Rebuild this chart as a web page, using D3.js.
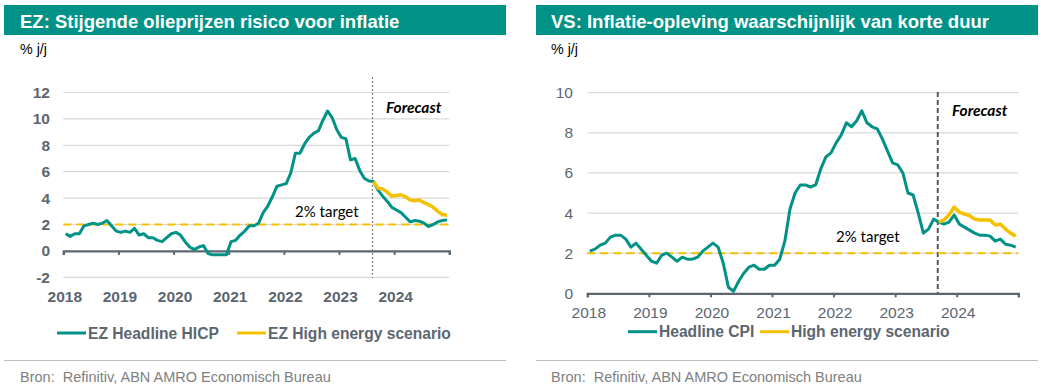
<!DOCTYPE html>
<html><head><meta charset="utf-8">
<script src="https://cdn.jsdelivr.net/npm/d3@7"></script>
<style>body{margin:0;background:#fff}svg{display:block}</style>
</head><body><svg id="c" width="1041" height="390"></svg>
<script>
// ---------- DATA ----------
const years = ["2018","2019","2020","2021","2022","2023","2024"];
// monthly, index 0 = Jan 2018
const ezHeadline = [
  1.3,1.1,1.3,1.3,1.9,2.0,2.1,2.0,2.1,2.3,1.9,1.5,
  1.4,1.5,1.4,1.7,1.2,1.3,1.0,1.0,0.8,0.7,1.0,1.3,
  1.4,1.2,0.7,0.3,0.1,0.3,0.4,-0.2,-0.3,-0.3,-0.3,-0.3,
  0.7,0.8,1.2,1.5,1.9,1.9,2.1,2.9,3.4,4.1,4.9,5.0,
  5.1,5.9,7.4,7.4,8.1,8.6,8.9,9.1,9.9,10.6,10.1,9.2,
  8.6,8.5,6.9,7.0,6.1,5.5,5.3,
  5.25,4.6,4.15,3.75,3.3,3.1,2.9,2.55,2.2,2.3,2.25,2.1,1.85,2.0,2.2,2.3,2.35
];
const ezHighStart = 67;
const ezHighEnergy = [5.25,4.75,4.7,4.45,4.15,4.2,4.25,4.1,3.85,3.8,3.85,3.65,3.5,3.3,3.0,2.75,2.7];
const usHeadline = [
  2.1,2.2,2.4,2.5,2.8,2.9,2.9,2.7,2.3,2.5,2.2,1.9,
  1.6,1.5,1.9,2.0,1.8,1.6,1.8,1.7,1.7,1.8,2.1,2.3,
  2.5,2.3,1.5,0.3,0.1,0.6,1.0,1.3,1.4,1.2,1.2,1.4,
  1.4,1.7,2.6,4.2,5.0,5.4,5.4,5.3,5.4,6.2,6.8,7.0,
  7.5,7.9,8.5,8.3,8.6,9.1,8.5,8.3,8.2,7.7,7.1,6.5,
  6.4,6.0,5.0,4.9,4.0,3.0,3.2,3.7,
  3.55,3.45,3.55,3.9,3.45,3.3,3.15,3.0,2.9,2.9,2.85,2.6,2.7,2.45,2.4,2.3
];
const usHighStart = 68;
const usHighEnergy = [3.55,3.65,3.9,4.3,4.05,3.95,3.87,3.7,3.65,3.65,3.65,3.4,3.45,3.2,3.0,2.85];
const targetValue = 2;
const ezYTicks = [-2,0,2,4,6,8,10,12];
const usYTicks = [0,2,4,6,8,10];

// ---------- STYLE ----------
const TEAL = "#009286", GOLD = "#F5C000", GREY = "#5b6670", GRID = "#d9d9d9";
const svg = d3.select("#c");
svg.append("rect").attr("width",1041).attr("height",390).attr("fill","#fff");

function panel(cfg){
  const g = svg.append("g");
  // title bar
  g.append("rect").attr("x",cfg.px).attr("y",5).attr("width",cfg.pw).attr("height",30).attr("fill",TEAL);
  g.append("text").attr("x",cfg.tx).attr("y",27.5).text(cfg.title)
    .attr("font-family","'Liberation Sans',Arial,sans-serif").attr("font-weight","bold")
    .attr("font-size",18.5).attr("fill","#fff");
  g.append("text").attr("x",cfg.tx).attr("y",54).text("% j/j")
    .attr("font-family","'Liberation Sans',Arial,sans-serif").attr("font-size",14.3).attr("fill","#000");

  const x = d3.scaleLinear().domain([0,84]).range(cfg.xr);
  const y = d3.scaleLinear().domain(cfg.yd).range(cfg.yr);
  const xm = i => x(i+0.5);

  // gridlines
  g.append("g").selectAll("line").data(cfg.yTicks.filter(t=>t!==0)).join("line")
    .attr("x1",cfg.xr[0]).attr("x2",cfg.xr[1]).attr("y1",d=>y(d)).attr("y2",d=>y(d))
    .attr("stroke",GRID).attr("stroke-width",1.2);
  // y labels
  g.append("g").selectAll("text").data(cfg.yTicks).join("text")
    .attr("x",cfg.ylx).attr("y",d=>y(d)+5.5).attr("text-anchor","end").text(d=>d)
    .attr("font-family","'Liberation Sans',Arial,sans-serif").attr("font-size",15.5)
    .attr("font-weight",cfg.bold?"bold":"normal").attr("fill",GREY);

  // x axis at 0
  const ax = d3.axisBottom(x).tickValues(d3.range(0,85,12)).tickSize(4).tickFormat("");
  const axg = g.append("g").attr("transform",`translate(0,${y(0)})`).call(ax);
  axg.select(".domain").attr("stroke",GREY).attr("stroke-width",2.2);
  axg.selectAll(".tick line").attr("stroke",GREY).attr("stroke-width",2);
  // year labels
  g.append("g").selectAll("text").data(years).join("text")
    .attr("x",(d,i)=>x(i*12)+1.5).attr("y",cfg.yearY).attr("text-anchor","middle").text(d=>d)
    .attr("font-family","'Liberation Sans',Arial,sans-serif").attr("font-size",15.5)
    .attr("font-weight",cfg.bold?"bold":"normal").attr("fill",GREY);

  // forecast divider
  g.append("line").attr("x1",xm(cfg.hiStart)-1).attr("x2",xm(cfg.hiStart)-1)
    .attr("y1",cfg.divY[0]).attr("y2",cfg.divY[1])
    .attr("stroke",cfg.divColor).attr("stroke-width",cfg.divW).attr("stroke-dasharray",cfg.divDash);
  g.append("text").attr("x",cfg.fcX).attr("y",cfg.fcY).text("Forecast")
    .attr("font-family","Lato,'Open Sans',sans-serif").attr("font-weight","bold").attr("font-style","italic")
    .attr("font-size",15.5).attr("fill","#000");

  // 2% target
  g.append("line").attr("x1",cfg.xr[0]).attr("x2",cfg.xr[1]).attr("y1",y(targetValue)).attr("y2",y(targetValue))
    .attr("stroke",GOLD).attr("stroke-width",2).attr("stroke-dasharray","8,5");
  g.append("text").attr("x",cfg.tgX).attr("y",cfg.tgY).text("2% target")
    .attr("font-family","Lato,'Open Sans',sans-serif").attr("font-size",15).attr("fill","#000");

  const line = d3.line().x(d=>xm(d.i)).y(d=>y(d.v));
  g.append("path").datum(cfg.head.map((v,i)=>({i,v}))).attr("d",line)
    .attr("fill","none").attr("stroke",TEAL).attr("stroke-width",3).attr("stroke-linejoin","round");
  g.append("path").datum(cfg.hi.map((v,k)=>({i:cfg.hiStart+k,v}))).attr("d",line)
    .attr("fill","none").attr("stroke",GOLD).attr("stroke-width",3.5).attr("stroke-linejoin","round");

  // legend
  const lf = "'Liberation Sans',Arial,sans-serif";
  cfg.legend.forEach(L=>{
    g.append("line").attr("x1",L.x).attr("x2",L.x+29).attr("y1",cfg.legY).attr("y2",cfg.legY)
      .attr("stroke",L.c).attr("stroke-width",3);
    g.append("text").attr("x",L.x+31).attr("y",cfg.legY+5.5).text(L.t)
      .attr("font-family",lf).attr("font-weight","bold").attr("font-size",15.6).attr("fill",GREY);
  });

  // footer
  g.append("line").attr("x1",cfg.px).attr("x2",cfg.px+cfg.pw).attr("y1",360.5).attr("y2",360.5)
    .attr("stroke","#bfbfbf").attr("stroke-width",1);
  g.append("text").attr("x",cfg.tx).attr("y",382).text("Bron:  Refinitiv, ABN AMRO Economisch Bureau")
    .style("white-space","pre")
    .attr("font-family",lf).attr("font-size",14.5).attr("fill","#808080");
}

panel({
  px:4, pw:502, tx:20, title:"EZ: Stijgende olieprijzen risico voor inflatie",
  xr:[63.3,449.3], yd:[-2,12], yr:[277.3,92.5], yTicks:ezYTicks, ylx:50, bold:true, yearY:302,
  head:ezHeadline, hi:ezHighEnergy, hiStart:ezHighStart,
  divY:[77,278], divColor:"#808080", divW:1.2, divDash:"2,2",
  fcX:386, fcY:113, tgX:295, tgY:217,
  legY:333, legend:[{x:57,c:TEAL,t:"EZ Headline HICP"},{x:237,c:GOLD,t:"EZ High energy scenario"}]
});
panel({
  px:536, pw:502, tx:551, title:"VS: Inflatie-opleving waarschijnlijk van korte duur",
  xr:[587.3,1018.3], yd:[0,10], yr:[293.3,92.7], yTicks:usYTicks, ylx:573, bold:false, yearY:317.5,
  head:usHeadline, hi:usHighEnergy, hiStart:usHighStart,
  divY:[92,293], divColor:"#595959", divW:2, divDash:"5,3",
  fcX:952, fcY:116, tgX:836, tgY:242,
  legY:331.7, legend:[{x:628,c:TEAL,t:"Headline CPI"},{x:760,c:GOLD,t:"High energy scenario"}]
});
</script></body></html>
